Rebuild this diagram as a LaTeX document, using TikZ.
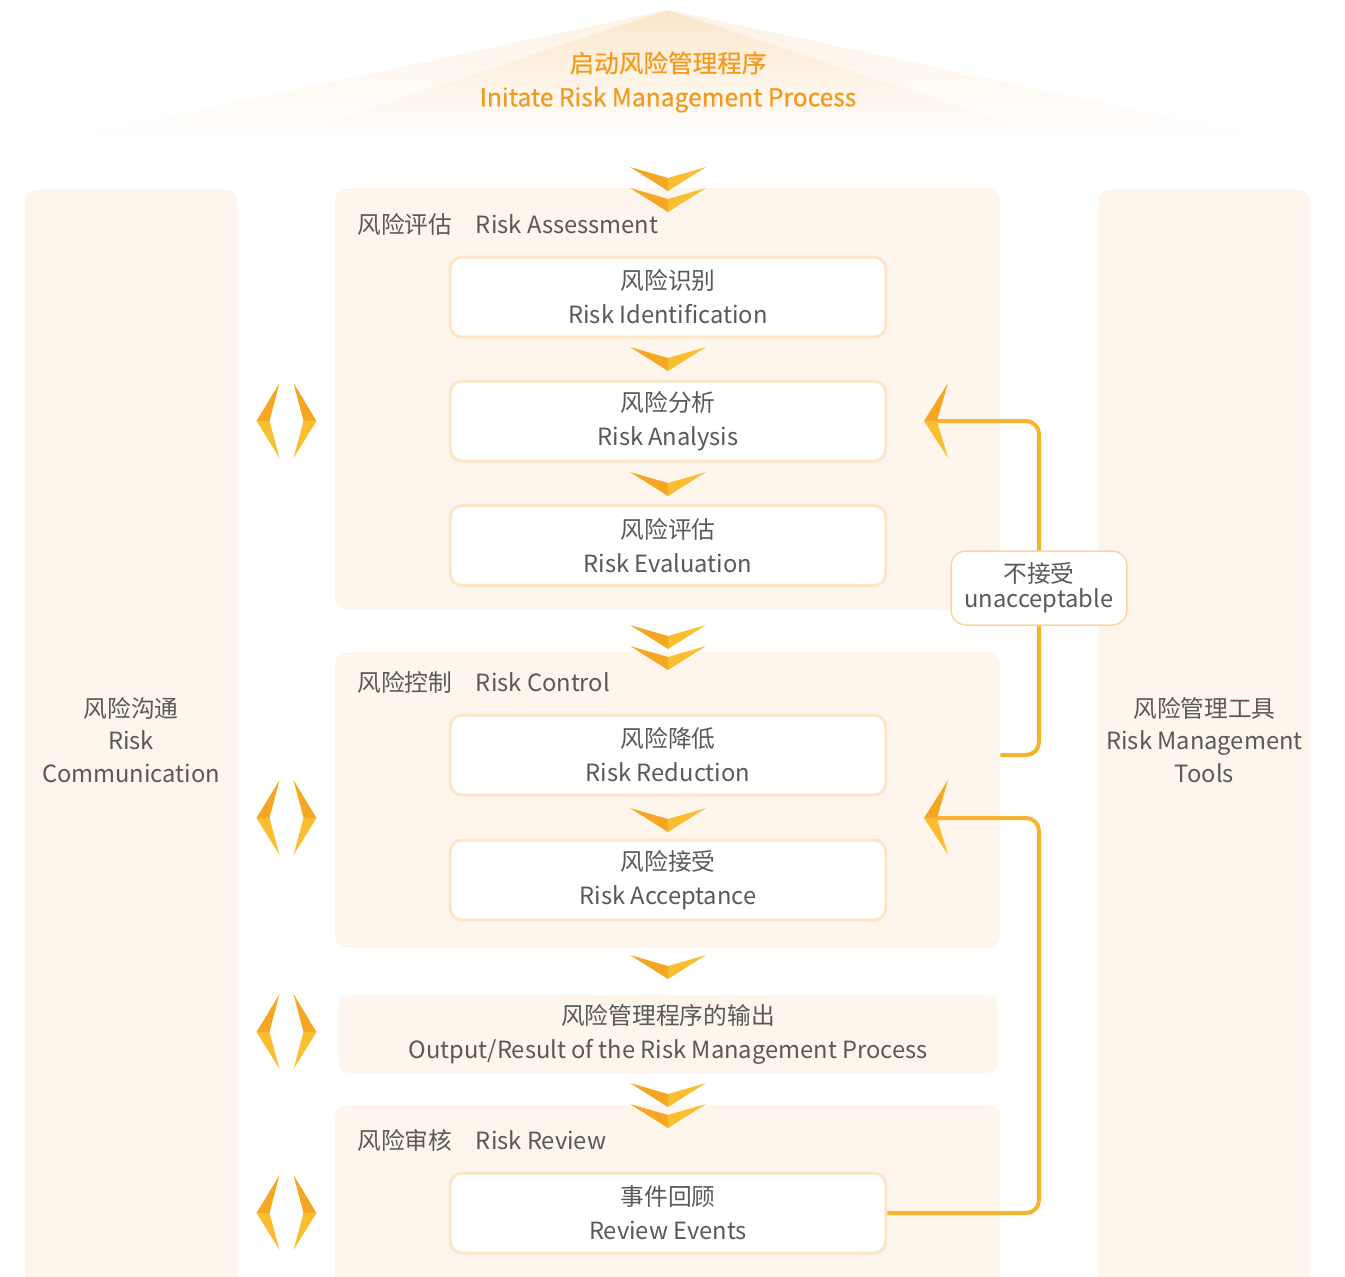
\documentclass[tikz,border=0pt]{standalone}
\usepackage{fontspec}
\setmainfont{Noto Sans CJK SC}
\newfontfamily\titlefont[FakeBold=0.5]{Noto Sans CJK SC}
\usetikzlibrary{calc}
\definecolor{panelbg}{HTML}{FEF6EC}
\definecolor{boxline}{HTML}{FDE6C8}
\definecolor{rejline}{HTML}{F9D6A4}
\definecolor{txtgray}{HTML}{595959}
\definecolor{titleorange}{HTML}{F39A1E}
\definecolor{markdark}{HTML}{F5A623}
\definecolor{marklight}{HTML}{FBBE30}
\definecolor{linecol}{HTML}{F9B32A}
\definecolor{roofin}{HTML}{FBE4C4}
\definecolor{roofout}{HTML}{FDF2E4}
\tikzset{
  panel/.style = {fill=panelbg, rounded corners=0.24cm, inner sep=0pt,
    align=center, text=txtgray},
  stepbox/.style = {draw=boxline, line width=0.06cm, fill=white,
    rounded corners=0.24cm, minimum width=8.72cm, minimum height=1.6cm,
    align=center, text=txtgray, inner sep=0pt},
  paneltitle/.style = {anchor=west, text=txtgray, inner sep=0pt},
  backline/.style = {draw=linecol, line width=0.08cm, rounded corners=0.26cm},
  downmark/.pic = {
    \fill[markdark]  (-38,0) -- (0,11) -- (0,24) -- cycle;
    \fill[marklight] (38,0) -- (0,11) -- (0,24) -- cycle;
  },
  sidemark/.pic = {
    \fill[markdark]  (-7,-38) -- (-30,0) -- (-17,0) -- cycle;
    \fill[marklight] (-30,0) -- (-7,37) -- (-17,0) -- cycle;
    \fill[markdark]  (7,-38) -- (30,0) -- (17,0) -- cycle;
    \fill[marklight] (30,0) -- (7,37) -- (17,0) -- cycle;
  },
  backhead/.pic = {
    \fill[markdark]  (0,0) -- (24,-38) -- (13,0) -- cycle;
    \fill[marklight] (0,0) -- (24,37) -- (13,0) -- cycle;
  }
}

\begin{document}
\begin{tikzpicture}[x=0.02cm,y=-0.02cm,font=\fontsize{13.5pt}{19.3pt}\selectfont]
  \clip (0,0) rectangle (1345,1276);
  \fill[white] (0,0) rectangle (1345,1276);
  % roof
  \shade[top color=roofout, bottom color=white] (668,10) -- (1275,140) -- (60,140) -- cycle;
  \shade[top color=roofin, bottom color=white, opacity=0.8] (668,10) -- (1060,140) -- (275,140) -- cycle;
  \node[text=titleorange, align=center, inner sep=0pt,
    font=\titlefont\fontsize{14pt}{19.3pt}\selectfont] (start) at (668,82)
    {启动风险管理程序\\Initate Risk Management Process};
  % side columns
  \node[panel, minimum width=4.24cm, minimum height=22.04cm,
    font=\fontsize{13.5pt}{18.3pt}\selectfont] (comm) at (131,740)
    {风险沟通\\Risk\\Communication};
  \node[panel, minimum width=4.22cm, minimum height=22.04cm,
    font=\fontsize{13.5pt}{18.3pt}\selectfont] (tools) at (1204.5,740)
    {风险管理工具\\Risk Management\\Tools};
  % middle panels
  \node[panel, minimum width=13.3cm, minimum height=8.44cm] (assess) at (667.5,399) {};
  \node[paneltitle] (assesstitle) at (357,224) {风险评估\quad Risk Assessment};
  \node[panel, minimum width=13.3cm, minimum height=5.92cm] (control) at (667.5,800) {};
  \node[paneltitle] (controltitle) at (357,682) {风险控制\quad Risk Control};
  \node[panel, minimum width=13.2cm, minimum height=1.56cm] (output) at (668,1034)
    {风险管理程序的输出\\Output/Result of the Risk Management Process};
  \node[panel, minimum width=13.3cm, minimum height=3.7cm] (review) at (667.5,1197.5) {};
  \node[paneltitle] (reviewtitle) at (357,1140) {风险审核\quad Risk Review};
  % steps
  \node[stepbox] (ident)      at (668,297)   {风险识别\\Risk Identification};
  \node[stepbox] (analysis)   at (668,421)   {风险分析\\Risk Analysis};
  \node[stepbox] (evaluation) at (668,545.5) {风险评估\\Risk Evaluation};
  \node[stepbox] (reduction)  at (668,755)   {风险降低\\Risk Reduction};
  \node[stepbox] (acceptance) at (668,880)   {风险接受\\Risk Acceptance};
  \node[stepbox] (events)     at (668,1213)  {事件回顾\\Review Events};
  % flow marks
  \pic at (668,167)  {downmark};
  \pic at (668,188)  {downmark};
  \pic at (668,347)  {downmark};
  \pic at (668,472)  {downmark};
  \pic at (668,625)  {downmark};
  \pic at (668,646)  {downmark};
  \pic at (668,808)  {downmark};
  \pic at (668,955)  {downmark};
  \pic at (668,1083) {downmark};
  \pic at (668,1104) {downmark};
  \pic at (286.5,421)  {sidemark};
  \pic at (286.5,818)  {sidemark};
  \pic at (286.5,1032) {sidemark};
  \pic at (286.5,1213) {sidemark};
  % feedback
  \coordinate (rejpos) at (1039,588);
  \coordinate (head1) at (936,421);
  \coordinate (head2) at (936,818);
  \draw[backline] (control.east |- reduction.east) -| (rejpos) |- (head1);
  \draw[backline] (events.east) -| (rejpos |- head2) -- (head2);
  \pic at (924,421) {backhead};
  \pic at (924,818) {backhead};
  \node[draw=rejline, line width=0.03cm, fill=white, rounded corners=0.3cm,
    minimum width=3.52cm, minimum height=1.48cm, align=center, text=txtgray,
    inner sep=0pt, font=\fontsize{13.5pt}{14.2pt}\selectfont] (rej) at (rejpos)
    {\raisebox{-0.06cm}{不接受}\\\raisebox{-0.06cm}{unacceptable}};
\end{tikzpicture}
\end{document}
